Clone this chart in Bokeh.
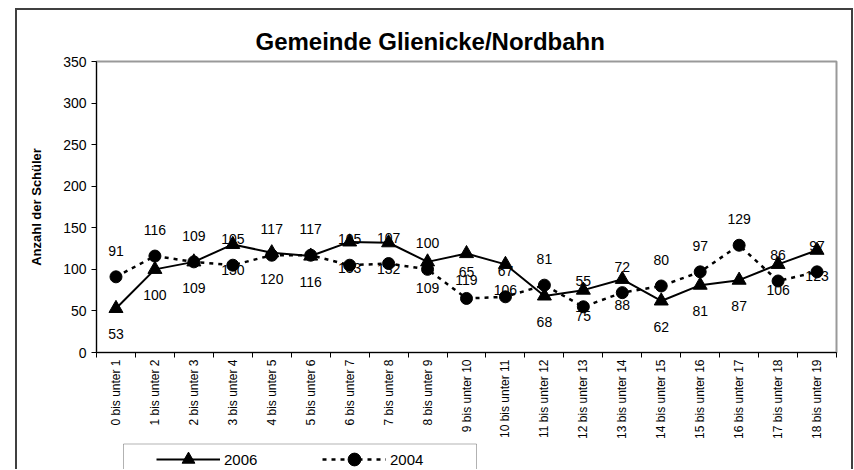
import numpy as np
from bokeh.plotting import figure
from bokeh.layouts import column
from bokeh.models import (Range1d, LinearAxis, FixedTicker,
                          Legend, LegendItem, LabelSet, ColumnDataSource, BoxAnnotation)
from bokeh.embed import file_html
from bokeh.resources import INLINE
from bokeh.core.properties import value

categories = ["0 bis unter 1", "1 bis unter 2", "2 bis unter 3", "3 bis unter 4",
              "4 bis unter 5", "5 bis unter 6", "6 bis unter 7", "7 bis unter 8",
              "8 bis unter 9", "9 bis unter 10", "10 bis unter 11", "11 bis unter 12",
              "12 bis unter 13", "13 bis unter 14", "14 bis unter 15", "15 bis unter 16",
              "16 bis unter 17", "17 bis unter 18", "18 bis unter 19"]
values_2006 = [53, 100, 109, 130, 120, 116, 133, 132, 109, 119, 106, 68, 75, 88, 62, 81, 87, 106, 123]
values_2004 = [91, 116, 109, 105, 117, 117, 105, 107, 100, 65, 67, 81, 55, 72, 80, 97, 129, 86, 97]
y_ticks = [0, 50, 100, 150, 200, 250, 300, 350]

FONT = "Liberation Sans"
n = len(categories)
x_centers = [i + 0.5 for i in range(n)]
x_bounds = list(range(n + 1))

src = ColumnDataSource(dict(x=x_centers, v2006=values_2006, v2004=values_2004,
                            t2006=[str(v) for v in values_2006],
                            t2004=[str(v) for v in values_2004]))

W = 834
MBL, MBR = 79, 15
HP = 431
p = figure(width=W, height=HP, x_range=Range1d(0, n),
           y_range=Range1d(0, 350), x_axis_location=None,
           toolbar_location=None, output_backend="svg",
           min_border_left=MBL, min_border_right=MBR, min_border_top=51,
           min_border_bottom=HP - 342)
p.background_fill_color = "white"
p.border_fill_color = "white"
p.outline_line_color = "#999999"
p.outline_line_width = 2
p.xgrid.visible = False
p.ygrid.visible = False

p.title.text = "Gemeinde Glienicke/Nordbahn"
p.title.align = "left"
p.title.offset = 159
p.title.standoff = 13
p.title.text_font = FONT
p.title.text_font_style = "bold"
p.title.text_font_size = "24px"
p.title.text_color = "black"

# y axis
ya = p.yaxis[0]
ya.ticker = FixedTicker(ticks=y_ticks)
ya.major_tick_in = 0
ya.major_tick_out = 5
ya.minor_tick_line_color = None
ya.axis_line_color = "black"
ya.major_tick_line_color = "black"
ya.major_label_text_font = FONT
ya.major_label_text_font_size = "14px"
ya.major_label_text_color = "black"
ya.major_label_standoff = 5
ya.axis_label = "Anzahl der Schüler"
ya.axis_label_text_font = FONT
ya.axis_label_text_font_style = "bold"
ya.axis_label_text_font_size = "13px"
ya.axis_label_text_color = "black"
ya.axis_label_standoff = 16

# x axis: tick marks at category boundaries, labels at category centres
tick_axis = LinearAxis(ticker=FixedTicker(ticks=x_bounds),
                       major_tick_in=0, major_tick_out=5, minor_tick_line_color=None,
                       minor_tick_out=0,
                       major_label_text_font_size="0px", major_label_standoff=0,
                       axis_line_color="black", major_tick_line_color="black")
p.add_layout(tick_axis, "below")
label_axis = LinearAxis(ticker=FixedTicker(ticks=x_centers),
                        major_label_overrides={x: c for x, c in zip(x_centers, categories)},
                        major_tick_line_color=None, axis_line_color=None,
                        minor_tick_line_color=None, major_tick_out=0, major_tick_in=0,
                        minor_tick_out=0,
                        major_label_orientation=np.pi / 2,
                        major_label_text_font=FONT,
                        major_label_text_font_size="12px",
                        major_label_text_color="black",
                        major_label_standoff=2)
p.add_layout(label_axis, "below")

# series
p.line(x="x", y="v2006", source=src, line_color="black", line_width=2)
p.scatter(x="x", y="v2006", source=src, marker="triangle", size=14,
          fill_color="black", line_color="black")
p.line(x="x", y="v2004", source=src, line_color="black", line_width=2.5, line_dash="4 5")
p.scatter(x="x", y="v2004", source=src, marker="circle", size=12,
          fill_color="black", line_color="black")

lab1 = LabelSet(x="x", y="v2006", text="t2006", source=src, y_offset=-26,
                text_align="center", text_baseline="middle",
                text_font=value(FONT), text_font_size="14px", text_color="black")
lab2 = LabelSet(x="x", y="v2004", text="t2004", source=src, y_offset=26,
                text_align="center", text_baseline="middle",
                text_font=value(FONT), text_font_size="14px", text_color="black")
p.add_layout(lab1)
p.add_layout(lab2)

# legend strip (frame aligned with the chart frame)
QH = 28
FW = W - MBL - MBR
q = figure(width=W, height=QH, x_range=Range1d(0, FW), y_range=Range1d(0, QH),
           x_axis_location=None, y_axis_location=None,
           toolbar_location=None, output_backend="svg",
           min_border_left=MBL, min_border_right=MBR, min_border_top=0, min_border_bottom=0)
q.outline_line_color = None
q.xgrid.visible = False
q.ygrid.visible = False
q.background_fill_color = "white"
q.border_fill_color = "white"
g1 = q.line(x=x_centers, y=values_2006, line_color="black", line_width=2)
g2 = q.scatter(x=x_centers, y=values_2006, marker="triangle", size=14,
               fill_color="black", line_color="black")
g3 = q.line(x=x_centers, y=values_2004, line_color="black", line_width=2.5, line_dash="4 5")
g4 = q.scatter(x=x_centers, y=values_2004, marker="circle", size=12,
               fill_color="black", line_color="black")
q.add_layout(BoxAnnotation(left=27, right=380, top=QH - 2.5, bottom=-5,
                           fill_alpha=0, line_color="black", line_width=1))
legend = Legend(items=[LegendItem(label="2006", renderers=[g1, g2]),
                       LegendItem(label="2004", renderers=[g3, g4])],
                orientation="horizontal", location=(60, -6),
                glyph_width=64, glyph_height=32, label_standoff=4, spacing=17,
                label_width=81, padding=0, margin=0,
                border_line_color=None, background_fill_alpha=0,
                label_text_font=FONT, label_text_font_size="15px", label_text_color="black")
q.add_layout(legend)

layout = column(p, q, spacing=0, margin=(8, 0, 0, 15),
                styles={"border-top": "2px solid #404040",
                        "border-left": "2px solid #404040",
                        "border-right": "2px solid #404040"})

open("out.html", "w").write(file_html(layout, INLINE))
